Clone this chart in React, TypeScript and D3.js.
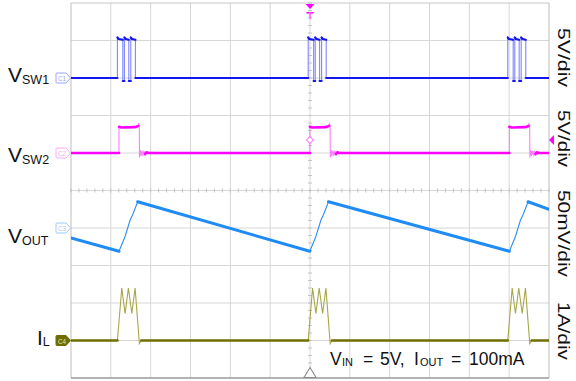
import * as d3 from "d3";
import React from "react";

const W = 576;
const H = 381;
const plot = { left: 71, right: 549, top: 3, bottom: 378 };
const font = "'Liberation Sans', Arial, sans-serif";

// time in divisions (12 across the screen), start of each switching packet
const burstStarts = [1.165, 5.955, 10.965];

// shapes relative to the packet start: [dt (div), value in channel units]
const sw1Burst = [
  [0, 0], [0, 5.4], [0.03, 5.2], [0.136, 5.1], [0.136, -0.4], [0.176, -0.4],
  [0.176, 5.4], [0.206, 5.2], [0.286, 5.1], [0.286, -0.4], [0.336, -0.4],
  [0.336, 5.4], [0.366, 5.2], [0.452, 5.1], [0.452, 0],
];
const sw2Burst = [
  [0.04, 0], [0.04, 3.5], [0.1, 3.4], [0.45, 3.45], [0.52, 3.6], [0.535, 4.0],
  [0.55, 3.6], [0.555, -0.6], [0.575, 0.4], [0.595, -0.4], [0.615, 0.3],
  [0.64, -0.25], [0.665, 0.2], [0.695, -0.15], [0.73, 0.1], [0.78, 0],
];
const voutRise = [[0.04, -31], [0.19, -11.6], [0.32, 10.7], [0.38, 17.3], [0.51, 35]];
const voutStart = -13.3; // mV at left edge
const voutEnd = 25; // mV at right edge
const ilBurst = [
  [0, 0], [0.11, 1.4], [0.193, 0.72], [0.276, 1.4], [0.362, 0.72],
  [0.444, 1.4], [0.552, -0.08], [0.6, 0],
];

const channels = [
  { id: "C4", shape: ilBurst, start: 0, end: 0, offset: -4, perDiv: 1, color: "#6f6d00", light: "#a9a64a", width: 2.6, tag: "#6f6d00", filled: true },
  { id: "C3", shape: voutRise, start: voutStart, end: voutEnd, offset: -1, perDiv: 50, color: "#1f8bf5", light: "#2f8ff0", width: 3, tag: "#9fcaf7", filled: false },
  { id: "C2", shape: sw2Burst, start: 0, end: 0, offset: 1, perDiv: 5, color: "#ff00ff", light: "#ff7dff", width: 2.6, tag: "#f7a6f7", filled: false },
  { id: "C1", shape: sw1Burst, start: 0, end: 0, offset: 3, perDiv: 5, color: "#1515ee", light: "#7f86ff", width: 2.2, tag: "#98a6ff", filled: false },
];

const leftLabels = [
  { main: "V", sub: "SW1", y: 82 },
  { main: "V", sub: "SW2", y: 162 },
  { main: "V", sub: "OUT", y: 243 },
  { main: "I", sub: "L", y: 345 },
];
const scaleLabels = [
  { text: "5V/div", y: 57.5, len: 59 },
  { text: "5V/div", y: 138.5, len: 57 },
  { text: "50mV/div", y: 233.5, len: 87 },
  { text: "1A/div", y: 331, len: 58 },
];

const x = d3.scaleLinear().domain([0, 12]).range([plot.left, plot.right]);
const yDiv = d3.scaleLinear().domain([5, -5]).range([plot.top, plot.bottom]);

function buildSeries(shape, start, end) {
  const pts = [[0, start]];
  burstStarts.forEach((b) => shape.forEach(([dt, v]) => pts.push([b + dt, v])));
  pts.push([12, end]);
  return pts;
}

function Trace({ ch }) {
  const series = buildSeries(ch.shape, ch.start, ch.end);
  const pts = series.map(([t, v]) => [x(t), yDiv(ch.offset + v / ch.perDiv)]);
  const line = d3.line();
  // flat runs are drawn thick (noisy), steep edges thin
  const runs = [];
  let cur = null;
  for (let i = 0; i < pts.length - 1; i++) {
    const [x0, y0] = pts[i];
    const [x1, y1] = pts[i + 1];
    const flat = Math.abs(y1 - y0) <= 1.5 * Math.abs(x1 - x0);
    if (flat) {
      if (!cur) {
        cur = [pts[i]];
        runs.push(cur);
      }
      cur.push(pts[i + 1]);
    } else cur = null;
  }
  return (
    <g clipPath="url(#plotClip)">
      <path d={line(pts)} fill="none" stroke={ch.light} strokeWidth={1.1} />
      {runs.map((r, i) => (
        <path key={i} d={line(r)} fill="none" stroke={ch.color} strokeWidth={ch.width} strokeLinejoin="round" strokeLinecap="round" />
      ))}
    </g>
  );
}

function Tag({ ch }) {
  const cy = yDiv(ch.offset);
  const d = `M57,${cy - 5} L66,${cy - 5} L70.5,${cy} L66,${cy + 5} L57,${cy + 5} Q56,${cy + 5} 56,${cy + 4} L56,${cy - 4} Q56,${cy - 5} 57,${cy - 5} Z`;
  return (
    <g>
      <path d={d} fill={ch.filled ? ch.tag : "#fff"} stroke={ch.tag} strokeWidth={1} />
      <text x={58} y={cy + 3} fontSize={8} fontFamily={font} fill={ch.filled ? "#e8e6a0" : ch.tag} textLength={8} lengthAdjust="spacingAndGlyphs">
        {ch.id}
      </text>
    </g>
  );
}

export default function App() {
  const xc = x(6);
  const yc = yDiv(0);
  return (
    <svg width={W} height={H} style={{ position: "absolute", left: 0, top: 0, background: "#fff" }}>
      <defs>
        <clipPath id="plotClip">
          <rect x={plot.left} y={plot.top - 2} width={plot.right - plot.left} height={plot.bottom - plot.top + 4} />
        </clipPath>
      </defs>
      <rect width={W} height={H} fill="#fff" />
      {/* grid */}
      {d3.range(1, 12).map((i) => (
        <line key={"vx" + i} x1={x(i)} x2={x(i)} y1={plot.top} y2={plot.bottom} stroke="#d6d6d6" />
      ))}
      {d3.range(1, 10).map((i) => (
        <line key={"hy" + i} x1={plot.left} x2={plot.right} y1={yDiv(i - 5)} y2={yDiv(i - 5)} stroke="#d6d6d6" />
      ))}
      {d3.range(0, 12.01, 0.2).map((t, i) => (
        <line key={"mx" + i} x1={x(t)} x2={x(t)} y1={yc - 2} y2={yc + 2} stroke="#c4c4c4" />
      ))}
      {d3.range(-5, 5.01, 0.2).map((v, i) => (
        <line key={"my" + i} x1={xc - 2} x2={xc + 2} y1={yDiv(v)} y2={yDiv(v)} stroke="#c4c4c4" />
      ))}
      <line x1={plot.left} x2={plot.right} y1={plot.top} y2={plot.top} stroke="#c8c8c8" />
      <line x1={plot.left} x2={plot.left} y1={plot.top} y2={plot.bottom} stroke="#bdbdbd" />
      <line x1={plot.right} x2={plot.right} y1={plot.top} y2={plot.bottom} stroke="#bdbdbd" />
      <line x1={plot.left} x2={plot.right} y1={plot.bottom} y2={plot.bottom} stroke="#9a9a9a" strokeWidth={1.5} />

      {channels.map((ch) => (
        <Trace key={ch.id} ch={ch} />
      ))}
      {channels.map((ch) => (
        <Tag key={ch.id} ch={ch} />
      ))}

      {/* trigger markers */}
      <path d={`M${xc - 4.5},${plot.top + 1} L${xc + 4.5},${plot.top + 1} L${xc},${plot.top + 6} Z`} fill="#ff00ff" />
      <rect x={xc - 3.5} y={plot.top + 9} width={7} height={1.6} fill="#ff00ff" />
      <rect x={xc - 0.8} y={plot.top + 9} width={1.6} height={7} fill="#ff66ff" />
      <path d={`M${xc},${140 - 3.5} L${xc + 3.5},140 L${xc},${140 + 3.5} L${xc - 3.5},140 Z`} fill="#fff" stroke="#ff44ff" strokeWidth={1} />
      <path d={`M${plot.right},140 L${plot.right + 5},135 L${plot.right + 5},145 Z`} fill="#ff00ff" />
      <path d={`M${xc},${plot.bottom - 10.5} L${xc + 6},${plot.bottom - 0.5} L${xc - 6},${plot.bottom - 0.5} Z`} fill="#fff" stroke="#8c8c8c" strokeWidth={1.1} />

      {/* channel names */}
      {leftLabels.map((l, i) => (
        <text key={i} y={l.y} fontFamily={font} fill="#111">
          <tspan x={l.main === "I" ? 37 : 8} fontSize={21}>{l.main}</tspan>
          <tspan fontSize={12.5} dy={l.main === "I" ? 0.5 : 1.5}>{l.sub}</tspan>
        </text>
      ))}
      {scaleLabels.map((s, i) => (
        <text key={i} transform={`translate(558,${s.y}) rotate(90)`} textAnchor="middle" fontSize={17} fontFamily={font} fill="#111" textLength={s.len} lengthAdjust="spacingAndGlyphs">
          {s.text}
        </text>
      ))}

      {/* test conditions */}
      <g fontFamily={font} fill="#111">
        <text x={330} y={364.5} fontSize={17.5}>V</text>
        <text x={342} y={366} fontSize={11}>IN</text>
        <text x={363} y={364.5} fontSize={17.5}>=</text>
        <text x={380} y={364.5} fontSize={17.5}>5V,</text>
        <text x={414} y={364.5} fontSize={17.5}>I</text>
        <text x={420} y={366} fontSize={11}>OUT</text>
        <text x={451} y={364.5} fontSize={17.5}>=</text>
        <text x={469} y={364.5} fontSize={17.5}>100mA</text>
      </g>
    </svg>
  );
}
